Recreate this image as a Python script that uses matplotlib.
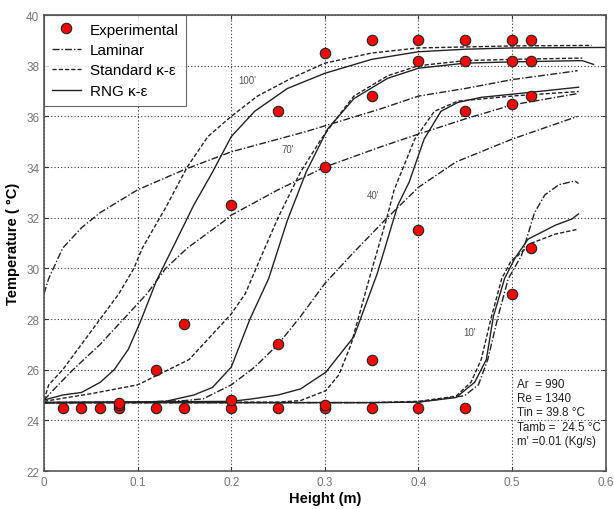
import matplotlib
matplotlib.use("Agg")
import matplotlib.pyplot as plt

plt.rcParams['font.family'] = ['Liberation Sans', 'DejaVu Sans']

# Experimental points
exp_x = [0.02, 0.04, 0.06, 0.08, 0.08, 0.08, 0.12, 0.15, 0.2, 0.2, 0.25, 0.3, 0.3, 0.35, 0.4, 0.45,
         0.5, 0.52,
         0.35, 0.4, 0.45, 0.5, 0.52,
         0.12, 0.25, 0.3, 0.35, 0.4, 0.45, 0.5, 0.52,
         0.15, 0.2, 0.25, 0.3, 0.35, 0.4, 0.45, 0.5, 0.52]
exp_y = [24.5, 24.5, 24.5, 24.5, 24.6, 24.7, 24.5, 24.5, 24.5, 24.8, 24.5, 24.5, 24.6, 24.5, 24.5, 24.5,
         29.0, 30.8,
         26.4, 31.5, 36.2, 36.5, 36.8,
         26.0, 27.0, 34.0, 36.8, 38.2, 38.2, 38.2, 38.2,
         27.8, 32.5, 36.2, 38.5, 39.0, 39.0, 39.0, 39.0, 39.0]

# 100 min
lam100_x = [0, 0.005, 0.02, 0.04, 0.06, 0.1, 0.15, 0.2, 0.28, 0.36, 0.4, 0.45, 0.5, 0.57]
lam100_y = [29.0, 29.6, 30.8, 31.6, 32.2, 33.1, 33.9, 34.6, 35.4, 36.3, 36.8, 37.1, 37.45, 37.8]
std100_x = [0, 0.005, 0.02, 0.04, 0.06, 0.08, 0.096, 0.105, 0.13, 0.153, 0.175, 0.2, 0.228, 0.264,
            0.3, 0.35, 0.4, 0.5, 0.585]
std100_y = [24.8, 25.4, 26.0, 27.0, 28.0, 29.0, 30.0, 30.8, 32.4, 34.0, 35.2, 36.0, 36.8, 37.5,
            38.1, 38.5, 38.7, 38.78, 38.8]
rng100_x = [0, 0.02, 0.04, 0.06, 0.075, 0.09, 0.103, 0.12, 0.14, 0.16, 0.18, 0.2, 0.225, 0.26,
            0.3, 0.35, 0.4, 0.45, 0.5, 0.6]
rng100_y = [24.8, 25.0, 25.1, 25.5, 26.0, 26.8, 27.9, 29.5, 31.0, 32.5, 33.8, 35.2, 36.2, 37.1,
            37.7, 38.25, 38.55, 38.65, 38.7, 38.72]

# 70 min
lam70_x = [0, 0.01, 0.031, 0.06, 0.085, 0.11, 0.13, 0.153, 0.19, 0.2, 0.25, 0.3, 0.36, 0.4, 0.45,
           0.5, 0.57]
lam70_y = [24.8, 25.2, 26.0, 27.0, 28.0, 29.0, 30.0, 30.8, 31.8, 32.1, 33.1, 34.0, 34.8, 35.3, 35.9,
           36.45, 36.9]
std70_x = [0, 0.05, 0.1, 0.155, 0.2, 0.215, 0.23, 0.25, 0.274, 0.296, 0.31, 0.331, 0.367, 0.4, 0.45,
           0.5, 0.575]
std70_y = [24.75, 25.05, 25.4, 26.4, 28.2, 29.0, 30.3, 32.0, 33.8, 35.1, 35.8, 36.8, 37.6, 38.0, 38.2,
           38.25, 38.3]
rng70_x = [0, 0.1, 0.13, 0.16, 0.18, 0.2, 0.22, 0.24, 0.26, 0.28, 0.303, 0.331, 0.367, 0.4, 0.45,
           0.5, 0.575, 0.587]
rng70_y = [24.7, 24.72, 24.75, 25.0, 25.3, 26.1, 28.0, 29.6, 31.9, 33.8, 35.5, 36.7, 37.5, 37.9, 38.1,
           38.15, 38.2, 38.05]

# 40 min
lam40_x = [0, 0.1, 0.15, 0.17, 0.2, 0.225, 0.25, 0.274, 0.3, 0.33, 0.364, 0.4, 0.44, 0.5, 0.57]
lam40_y = [24.7, 24.72, 24.78, 24.85, 25.4, 26.1, 27.0, 28.1, 29.4, 30.6, 31.9, 33.2, 34.2, 35.1, 36.0]
std40_x = [0, 0.25, 0.274, 0.301, 0.315, 0.328, 0.349, 0.367, 0.374, 0.396, 0.417, 0.442, 0.503, 0.571]
std40_y = [24.7, 24.72, 24.78, 25.17, 25.8, 27.0, 29.8, 32.1, 33.1, 35.1, 36.2, 36.6, 36.81, 36.98]
rng40_x = [0, 0.2, 0.221, 0.25, 0.274, 0.301, 0.331, 0.356, 0.378, 0.39, 0.406, 0.424, 0.442, 0.467,
           0.52, 0.571]
rng40_y = [24.7, 24.75, 24.84, 25.0, 25.24, 25.9, 27.3, 29.8, 32.5, 33.4, 35.1, 36.2, 36.55, 36.75,
           36.95, 37.15]

# 10 min
lam10_x = [0, 0.35, 0.4, 0.449, 0.464, 0.474, 0.485, 0.496, 0.51, 0.524, 0.535, 0.55, 0.567, 0.571]
lam10_y = [24.7, 24.7, 24.72, 24.97, 25.4, 26.4, 28.1, 29.6, 30.5, 32.2, 32.9, 33.3, 33.45, 33.35]
std10_x = [0, 0.35, 0.4, 0.44, 0.456, 0.467, 0.478, 0.489, 0.499, 0.506, 0.521, 0.546, 0.571]
std10_y = [24.7, 24.7, 24.75, 24.95, 25.5, 26.4, 28.1, 29.6, 30.3, 30.5, 31.0, 31.35, 31.55]
rng10_x = [0, 0.35, 0.4, 0.44, 0.46, 0.4725, 0.48, 0.492, 0.503, 0.517, 0.546, 0.564, 0.571]
rng10_y = [24.7, 24.7, 24.72, 24.9, 25.5, 26.4, 28.1, 29.6, 30.4, 31.15, 31.7, 31.95, 32.15]

fig = plt.figure(figsize=(6.14, 5.10), dpi=100)
ax = fig.add_axes([0.0717, 0.0745, 0.9148, 0.8941])

lc = '#222222'
lw = 1.0
lam_series = [(lam100_x, lam100_y), (lam70_x, lam70_y), (lam40_x, lam40_y), (lam10_x, lam10_y)]
std_series = [(std100_x, std100_y), (std70_x, std70_y), (std40_x, std40_y), (std10_x, std10_y)]
rng_series = [(rng100_x, rng100_y), (rng70_x, rng70_y), (rng40_x, rng40_y), (rng10_x, rng10_y)]

for i, (x, y) in enumerate(lam_series):
    ax.plot(x, y, color=lc, lw=lw, ls=(0, (5, 1.5, 1, 1.5)), label='Laminar' if i == 0 else None)
for i, (x, y) in enumerate(std_series):
    ax.plot(x, y, color=lc, lw=lw, ls=(0, (3, 1.5)), label='Standard κ-ε' if i == 0 else None)
for i, (x, y) in enumerate(rng_series):
    ax.plot(x, y, color=lc, lw=lw, ls='-', label='RNG κ-ε' if i == 0 else None)

ax.plot(exp_x, exp_y, 'o', ms=7.5, mfc='#ff0000', mec='#222222', mew=0.8, zorder=5,
        label='Experimental')

# time labels
for txt, tx, ty in [("100'", 0.217, 37.45), ("70'", 0.26, 34.7), ("40'", 0.351, 32.9), ("10'", 0.455, 27.5)]:
    ax.text(tx, ty, txt, fontsize=7, color='#555555', ha='center', va='center')

ax.text(0.505, 22.95,
        "Ar  = 990\nRe = 1340\nTin = 39.8 °C\nTamb =  24.5 °C\nm' =0.01 (Kg/s)",
        fontsize=8.4, color='#222222', ha='left', va='bottom', linespacing=1.25)

ax.set_xlim(0, 0.6)
ax.set_ylim(22, 40)
ax.set_xticks([0, 0.1, 0.2, 0.3, 0.4, 0.5, 0.6])
ax.set_xticklabels(['0', '0.1', '0.2', '0.3', '0.4', '0.5', '0.6'])
ax.set_yticks(range(22, 41, 2))
ax.grid(True, ls=(0, (1, 2)), color='#333333', lw=0.8)
ax.tick_params(direction='in', top=True, right=True, labelsize=8.5, labelcolor='#777777',
               length=3, color='#333333')
for s in ax.spines.values():
    s.set_color('#555555')
    s.set_linewidth(1.2)

ax.set_xlabel('Height (m)', fontsize=10.5, fontweight='bold', labelpad=2)
ax.set_ylabel('Temperature ( °C)', fontsize=10.5, fontweight='bold', labelpad=4)

handles, labels = ax.get_legend_handles_labels()
order = [labels.index(l) for l in ['Experimental', 'Laminar', 'Standard κ-ε', 'RNG κ-ε']]
leg = ax.legend([handles[i] for i in order], [labels[i] for i in order], loc='upper left',
                fontsize=11, frameon=True, fancybox=False, edgecolor='#444444', borderaxespad=0,
                handlelength=1.9, labelspacing=0.42, borderpad=0.5, handletextpad=0.6)
leg.get_frame().set_linewidth(0.8)

fig.savefig('out.png', dpi=100)
